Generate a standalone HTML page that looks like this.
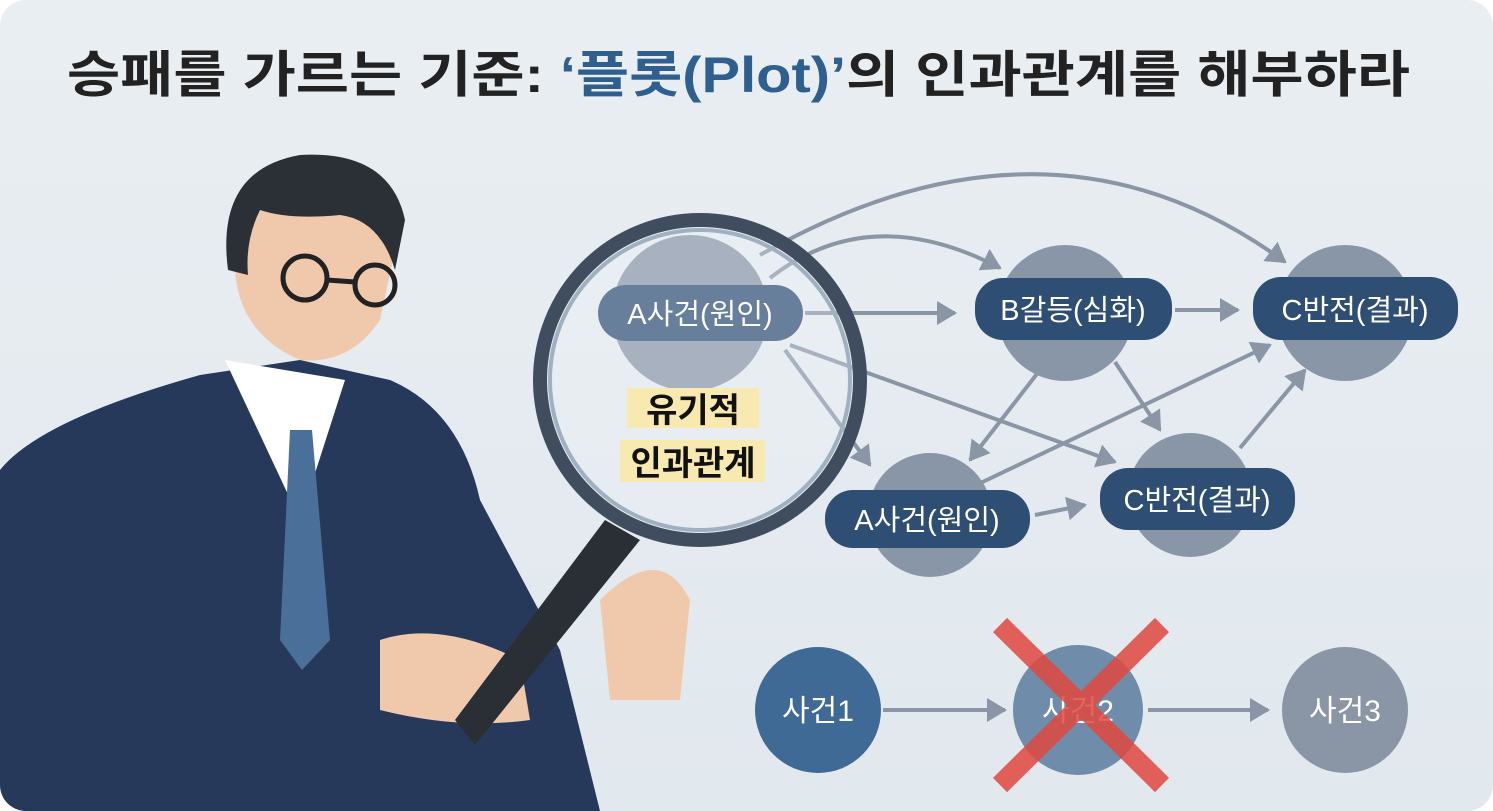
<!DOCTYPE html>
<html><head><meta charset="utf-8"><style>
html,body{margin:0;padding:0;background:#fff}
.wrap{position:relative;width:1493px;height:811px;overflow:hidden;border-radius:26px;background:linear-gradient(180deg,#e9eef2,#e1e8ee);}
text{font-family:"Liberation Sans","Noto Sans CJK KR",sans-serif}
</style></head><body><div class="wrap">
<svg width="1493" height="811" viewBox="0 0 1493 811" xmlns="http://www.w3.org/2000/svg">
<defs>
<marker id="ar" markerWidth="6" markerHeight="6" refX="4.5" refY="3" orient="auto" markerUnits="strokeWidth"><path d="M0,0 L5,3 L0,6 z" fill="#8a96a6"/></marker>
</defs>
<text x="67" y="92" textLength="1343" lengthAdjust="spacingAndGlyphs" font-size="50" font-weight="bold" fill="#222">승패를 가르는 기준: <tspan fill="#2f5f8f">‘플롯(Plot)’</tspan>의 인과관계를 해부하라</text>

<g fill="#8896a8">
<circle cx="690" cy="313" r="78"/>
<circle cx="1065" cy="313" r="68"/>
<circle cx="1345" cy="313" r="68"/>
<circle cx="930" cy="515" r="62"/>
<circle cx="1190" cy="495" r="62"/>
</g>
<g stroke="#8a96a6" stroke-width="4" fill="none" marker-end="url(#ar)">
<path d="M760,255 Q1050,90 1285,262"/>
<path d="M770,278 Q870,200 1000,268"/>
<path d="M805,313 L955,313"/>
<path d="M1175,310 L1238,310"/>
<path d="M790,345 L1115,462"/>
<path d="M785,350 L870,465"/>
<path d="M1040,370 L970,460"/>
<path d="M1115,362 L1160,430"/>
<path d="M970,488 L1270,345"/>
<path d="M1240,448 L1305,370"/>
<path d="M1035,515 L1085,505"/>
<path d="M883,710 L1005,710"/>
<path d="M1148,710 L1268,710"/>
</g>
<g fill="#2f4e74">
<rect x="598" y="285" width="205" height="56" rx="28"/>
<rect x="975" y="278" width="197" height="62" rx="28"/>
<rect x="1253" y="277" width="205" height="63" rx="28"/>
<rect x="825" y="490" width="205" height="58" rx="28"/>
<rect x="1100" y="468" width="195" height="62" rx="28"/>
</g>
<g fill="#fff" font-size="29" text-anchor="middle">
<text x="700" y="324">A사건(원인)</text>
<text x="1073" y="320">B갈등(심화)</text>
<text x="1355" y="320">C반전(결과)</text>
<text x="927" y="530">A사건(원인)</text>
<text x="1197" y="510">C반전(결과)</text>
</g>
<circle cx="818" cy="710" r="63" fill="#3f6a96"/>
<circle cx="1078" cy="710" r="65" fill="#6f8dab"/>
<circle cx="1345" cy="710" r="63" fill="#8a96a6"/>
<g fill="#fff" font-size="30" text-anchor="middle">
<text x="818" y="721">사건1</text><text x="1078" y="721">사건2</text><text x="1345" y="721">사건3</text>
</g>
<g stroke="#e0483f" stroke-width="20" opacity="0.85"><line x1="1000" y1="625" x2="1162" y2="785"/><line x1="1162" y1="625" x2="1000" y2="785"/></g>

<!-- person -->
<path d="M0,470 Q40,420 200,375 L300,360 L390,380 Q460,410 480,500 L560,650 L600,811 L0,811 z" fill="#26395a"/>
<path d="M225,360 L300,520 L345,380 z" fill="#fff"/>
<path d="M290,430 L312,430 L330,640 L302,670 L280,640 z" fill="#4a7099"/>
<path d="M235,250 Q230,330 300,360 Q350,365 380,320 L395,250 Q400,200 360,190 L260,200 z" fill="#f0c9ad"/>
<path d="M228,270 Q215,170 300,155 Q390,150 405,220 L395,270 Q380,220 340,215 Q290,220 260,210 Q245,240 248,275 z" fill="#2b2f36"/>
<g fill="none" stroke="#222" stroke-width="5"><circle cx="305" cy="278" r="22"/><circle cx="375" cy="285" r="20"/><line x1="327" y1="280" x2="355" y2="282"/></g>
<path d="M380,640 Q440,620 520,660 L530,720 Q460,730 380,710 z" fill="#f0c9ad"/>
<path d="M600,600 Q660,540 690,600 L680,700 L610,700 z" fill="#f0c9ad"/>
<path d="M605,520 L455,720 L475,745 L640,540 z" fill="#2a2f36"/>
<circle cx="700" cy="380" r="160" fill="#eef3f7" fill-opacity="0.3" stroke="#3f4d5e" stroke-width="14"/>
<circle cx="700" cy="380" r="150" fill="none" stroke="#9fb0c0" stroke-width="4"/>
<rect x="627" y="388" width="132" height="40" fill="#f7e9b0"/>
<rect x="620" y="440" width="145" height="42" fill="#f7e9b0"/>
<g fill="#111" font-size="34" font-weight="bold" text-anchor="middle"><text x="693" y="422">유기적</text><text x="693" y="475">인과관계</text></g>
</svg></div></body></html>
